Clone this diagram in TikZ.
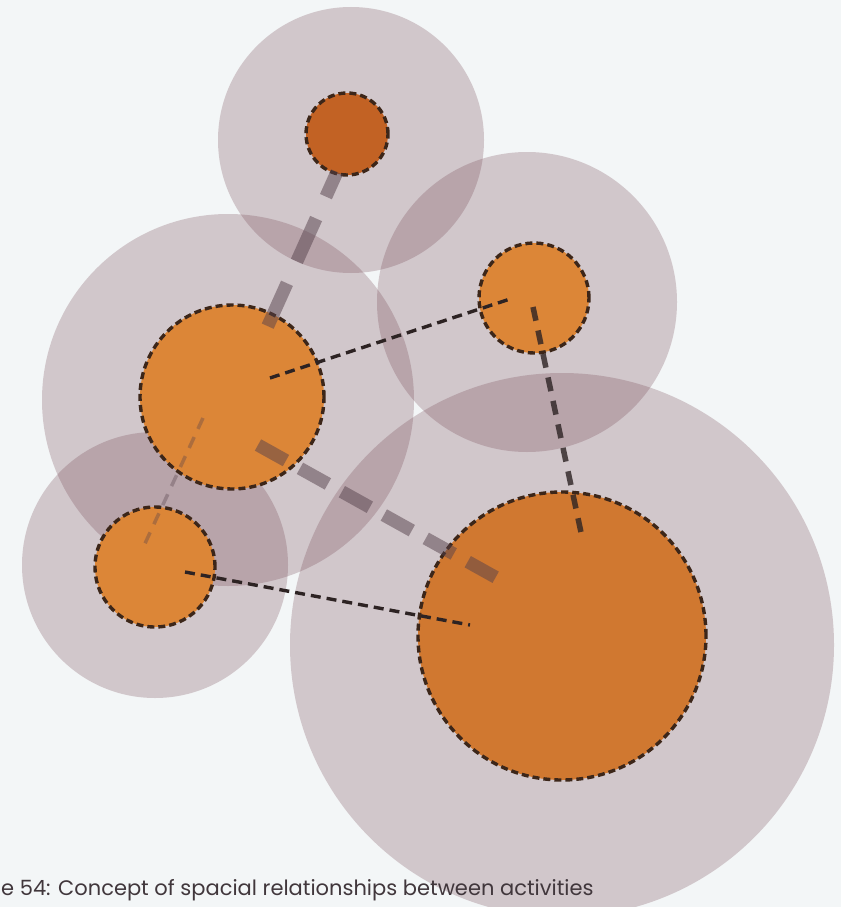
\documentclass[tikz,border=0pt]{standalone}
\usepackage{fontspec}
\setmainfont{Poppins}
\usepackage{xcolor}
\usepackage{tikz}
\usetikzlibrary{arrows.meta, positioning}
\definecolor{paperWhite}{RGB}{243,246,247}
\definecolor{zoneMauve}{RGB}{110,60,75}
\definecolor{actOrange}{RGB}{220,134,55}
\definecolor{actDeep}{RGB}{208,120,48}
\definecolor{actDark}{RGB}{194,98,36}
\definecolor{rimBrown}{RGB}{60,38,25}
\definecolor{linkGray}{RGB}{85,65,75}
\definecolor{linkDark}{RGB}{45,35,35}
\definecolor{capGray}{RGB}{65,55,60}

\begin{document}
\begin{tikzpicture}[x=1pt, y=-1pt,
  zone/.style={circle, fill=zoneMauve, fill opacity=0.25, inner sep=0pt},
  act/.style={circle, draw=rimBrown, line width=3.4pt, dash pattern=on 7pt off 4pt,
              fill=actOrange, inner sep=0pt},
  heavylink/.style={line width=13pt, draw=linkGray, draw opacity=0.5},
  midlink/.style={line width=5.5pt, draw=linkDark, draw opacity=0.8, dash pattern=on 14pt off 10pt},
  finelink/.style={line width=3.4pt, draw=linkDark, dash pattern=on 10pt off 6pt},
  faintlink/.style={line width=3.5pt, draw=linkGray, draw opacity=0.35, dash pattern=on 12pt off 9pt}
]
\fill[paperWhite] (0,0) rectangle (841,907);
\useasboundingbox (0,0) rectangle (841,907);
\begin{scope}
\clip (0,0) rectangle (841,907);
% zones of influence
\node[zone, minimum size=266pt] (zTop) at (351,140) {};
\node[zone, minimum size=300pt] (zRight) at (527,302) {};
\node[zone, minimum size=372pt] (zLeft) at (228,400) {};
\node[zone, minimum size=266pt] (zLow) at (155,565) {};
\node[zone, minimum size=544pt] (zBig) at (562,645) {};
% activities
\node[act, fill=actDark, minimum size=82pt] (aTop) at (347,134) {};
\node[act, minimum size=184pt] (aLeft) at (232,397) {};
\node[act, minimum size=110pt] (aRight) at (534,298) {};
\node[act, minimum size=120pt] (aLow) at (155,567) {};
\node[act, fill=actDeep, minimum size=288pt] (aBig) at (562,636) {};
\end{scope}
% link ends
\coordinate (top-out) at (337,172);
\coordinate (left-up) at (266,330);
\coordinate (left-mid) at (270,378);
\coordinate (right-in) at (510,299);
\coordinate (right-out) at (533,307);
\coordinate (big-top) at (582,537);
\coordinate (left-down) at (258,445);
\coordinate (big-left) at (497,578);
\coordinate (low-mid) at (185,572);
\coordinate (big-mid) at (470,625);
\coordinate (left-low) at (203,418);
\coordinate (low-up) at (142,550);
% relationships
\draw[heavylink, dash pattern=on 47pt off 24pt, dash phase=20pt] (top-out) -- (left-up);
\draw[heavylink, dash pattern=on 32pt off 16pt] (left-down) -- (big-left);
\draw[midlink] (right-out) -- (big-top);
\draw[finelink] (left-mid) -- (right-in);
\draw[finelink] (low-mid) -- (big-mid);
\draw[faintlink] (left-low) -- (low-up);
\node[font=\fontsize{21}{24}\selectfont, text=capGray, anchor=base west, inner sep=0pt]
  (cap) at (1,895) {e 54: Concept of spacial relationships between activities};
\end{tikzpicture}
\end{document}
